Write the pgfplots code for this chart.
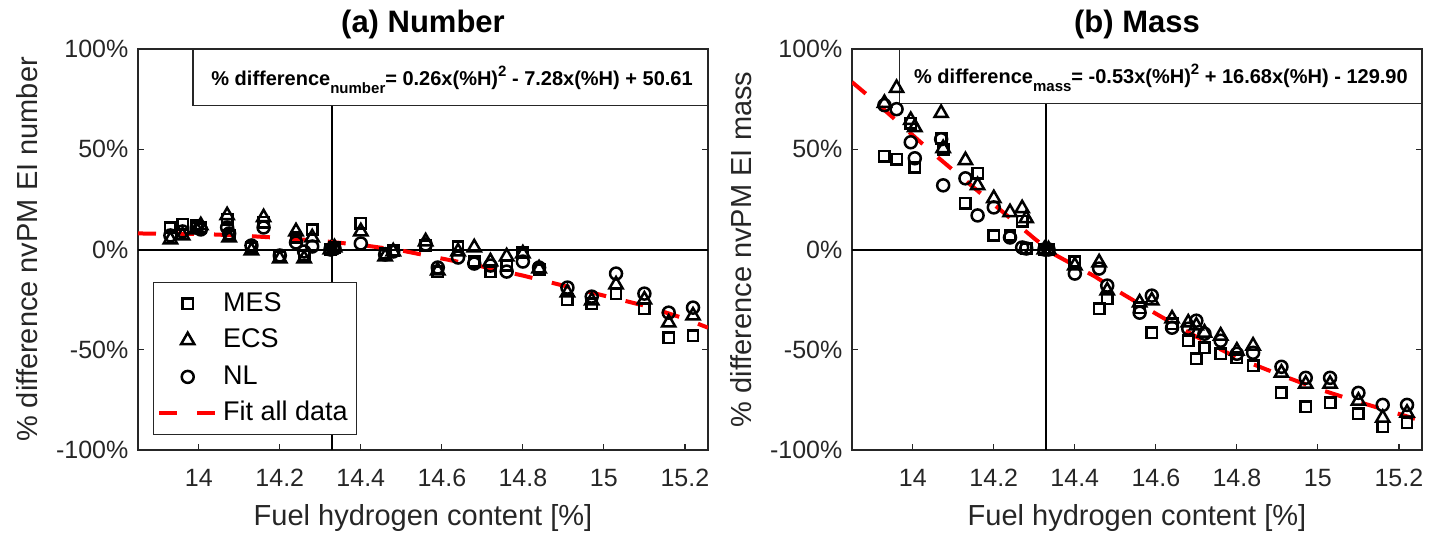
\documentclass[border=0pt]{standalone}
\usepackage{fontspec}
\setmainfont{Liberation Sans}
\usepackage{pgfplots}
\usepackage{pgfplotstable}
\pgfplotsset{compat=1.18}
\definecolor{axgray}{RGB}{38,38,38}
\definecolor{fitred}{RGB}{255,0,0}

% Panel (a): number
\pgfplotstableread{
x      mes    ecs    nl
13.93  11     5      7
13.96  12.5   7      9
13.995 12     10     11
14.005 11     12     10
14.07  15     17     11
14.075 7      6      8
14.13  1      -0.5   2
14.16  13.5   16     11
14.20  -3.5   -4.5   -3
14.24  6      9      3.5
14.26  -3     -4.5   -1
14.28  10     6      1.5
14.325 0      0      0
14.335 1      1      0.5
14.40  13     9      3
14.46  -2     -3.5   -2.5
14.48  -0.5   -1     -1
14.56  2      4      2.5
14.59  -11    -10.5  -9
14.64  1.5    -1     -4
14.68  -6     1      -7
14.72  -11    -6     -8
14.76  -8     -3.5   -11
14.80  -1.5   -2     -6
14.84  -10    -9.5   -9
14.91  -25    -21.5  -19
14.97  -27    -25.5  -23.5
15.03  -22    -17.5  -12
15.10  -29.5  -25    -22
15.16  -44    -36.5  -31.5
15.22  -43    -33    -29
}\numtab

\pgfplotstableread{
x      y
13.85  8
14.0   7.8
14.1   7
14.2   5.8
14.3   4.3
14.4   2.3
14.5   -0.5
14.6   -4.5
14.7   -8.5
14.8   -13
14.9   -18
15.0   -23
15.1   -28
15.2   -34.5
15.257 -39
}\numfit

% Panel (b): mass
\pgfplotstableread{
x      mes    ecs    nl
13.93  46.5   73     72
13.96  45     80.5   70
13.995 63     64.5   53.5
14.005 41     61     45.5
14.07  55.5   68     55
14.075 50     50.5   32
14.13  23     44.5   35.5
14.16  38     32     17
14.20  7      25.5   21
14.24  7      18.5   6
14.27  14     20.5   1
14.28  0.5    15.5   0.5
14.325 0      0      0
14.335 0      0      0
14.40  -6     -8     -12
14.46  -29.5  -6.5   -9.5
14.48  -24.5  -20.5  -18
14.56  -29    -26.5  -31.5
14.59  -41.5  -25.5  -23
14.64  -37    -34.5  -39
14.68  -45.5  -36.5  -39.5
14.70  -54.5  -38    -35.5
14.72  -49    -41.5  -42
14.76  -52    -43    -45.5
14.80  -54    -50.5  -52
14.84  -58    -48    -51.5
14.91  -71.5  -61.5  -58.5
14.97  -78.5  -67    -64
15.03  -76.5  -67    -64
15.10  -82    -75.5  -71.5
15.16  -88.5  -84    -77.5
15.22  -86.5  -81.5  -77.5
}\masstab

\pgfplotstableread{
x      y
13.85  83.5
13.9   75
13.95  66
14.0   57
14.05  48
14.1   39.5
14.15  31
14.2   22.5
14.25  14
14.3   5.5
14.35  -2.5
14.4   -8
14.45  -13.5
14.5   -20
14.6   -32
14.7   -43.5
14.8   -54
14.9   -62
15.0   -69.5
15.1   -76
15.2   -82
15.257 -85.5
}\massfit

\pgfplotsset{
  panel/.style={
    scale only axis, width=285pt, height=200.5pt,
    anchor=south west,
    xmin=13.85, xmax=15.257, ymin=-100, ymax=100,
    xtick={14,14.2,14.4,14.6,14.8,15,15.2},
    xticklabels={14,14.2,14.4,14.6,14.8,15,15.2},
    ytick={-100,-50,0,50,100},
    yticklabels={-100\%,-50\%,0\%,50\%,100\%},
    tick align=inside, major tick length=3pt,
    axis line style={axgray, line width=0.6pt},
    tick style={axgray, line width=0.6pt},
    tick label style={font=\fontsize{12.5}{14}\selectfont, text=axgray},
    xticklabel style={yshift=-6pt},
    yticklabel style={xshift=-1.3pt},
    label style={font=\fontsize{14.5}{17}\selectfont, text=axgray},
    xlabel style={at={(axis description cs:0.5,-0.1895)}, anchor=base},
    ylabel style={at={(axis description cs:-0.177,0.5)}, anchor=base},
    every axis title shift=0pt,
    title style={at={(axis description cs:0.5,1.04)}, anchor=base,
                 font=\bfseries\fontsize{15.5}{18}\selectfont, text=black},
    xlabel={Fuel hydrogen content [\%]},
  },
  mkleg/.style={legend image code/.code={%
      \draw[mark repeat=2,mark phase=2,##1] plot coordinates {(0pt,0pt) (14.25pt,0pt) (28.5pt,0pt)};}},
  mes/.style={only marks, black, mark=square, mark size=2.6pt,
              mark options={solid, line width=1.25pt, black}, mkleg},
  ecs/.style={only marks, black, mark=triangle, mark size=3.8pt,
              mark options={solid, line width=1.25pt, black}, mkleg},
  nl/.style={only marks, black, mark=o, mark size=3pt,
             mark options={solid, line width=1.25pt, black}, mkleg},
  fitline/.style={fitred, line width=2pt, dash pattern=on 9pt off 10pt, no marks,
      legend image code/.code={\draw[##1] (0pt,0pt) -- (28.5pt,0pt);}},
  refline/.style={black, line width=1pt, no marks, forget plot},
}

\begin{document}
\begin{tikzpicture}
\path[use as bounding box] (0,0) rectangle (722.5pt,268.5pt);

% ---------- (a) Number ----------
\begin{axis}[panel, at={(69pt,43.5pt)},
  title={(a) Number},
  ylabel={\% difference nvPM EI number},
  legend style={at={(0.026,0.419)}, anchor=north west, draw=axgray, fill=white,
    font=\fontsize{13.5}{16}\selectfont, text=black,
    inner xsep=2pt, inner ysep=1.5pt, row sep=0pt,
    nodes={inner xsep=2.5pt, inner ysep=2.9pt, text height=10pt, text depth=2.5pt}},
  legend cell align=left,
]
\addplot[refline] coordinates {(13.85,0) (15.257,0)};
\addplot[refline] coordinates {(14.33,-100) (14.33,100)};
\addplot[mes] table[x=x, y=mes] {\numtab};
\addplot[ecs] table[x=x, y=ecs] {\numtab};
\addplot[nl]  table[x=x, y=nl]  {\numtab};
\addplot[fitline] table[x=x, y=y] {\numfit};
\legend{MES, ECS, NL, Fit all data}
\draw[axgray, line width=0.6pt, fill=white] (rel axis cs:0.0965,0.86) rectangle (rel axis cs:1,1);
\node[anchor=base, font=\bfseries\fontsize{10}{12}\selectfont, inner sep=0pt]
  at (rel axis cs:0.551,0.910)
  {\% difference\raisebox{-4pt}{\fontsize{7.5}{9}\selectfont number}= 0.26x(\%H)\raisebox{4.5pt}{\fontsize{7.5}{9}\selectfont 2} - 7.28x(\%H) + 50.61};
\end{axis}

% ---------- (b) Mass ----------
\begin{axis}[panel, at={(426pt,43.5pt)},
  title={(b) Mass},
  ylabel={\% difference nvPM EI mass},
]
\addplot[refline] coordinates {(13.85,0) (15.257,0)};
\addplot[refline] coordinates {(14.33,-100) (14.33,100)};
\addplot[mes] table[x=x, y=mes] {\masstab};
\addplot[ecs] table[x=x, y=ecs] {\masstab};
\addplot[nl]  table[x=x, y=nl]  {\masstab};
\addplot[fitline] table[x=x, y=y] {\massfit};
\draw[axgray, line width=0.6pt, fill=white] (rel axis cs:0.084,0.865) rectangle (rel axis cs:1,1);
\node[anchor=base, font=\bfseries\fontsize{10}{12}\selectfont, inner sep=0pt]
  at (rel axis cs:0.542,0.915)
  {\% difference\raisebox{-4pt}{\fontsize{7.5}{9}\selectfont mass}= -0.53x(\%H)\raisebox{4.5pt}{\fontsize{7.5}{9}\selectfont 2} + 16.68x(\%H) - 129.90};
\end{axis}
\end{tikzpicture}
\end{document}
